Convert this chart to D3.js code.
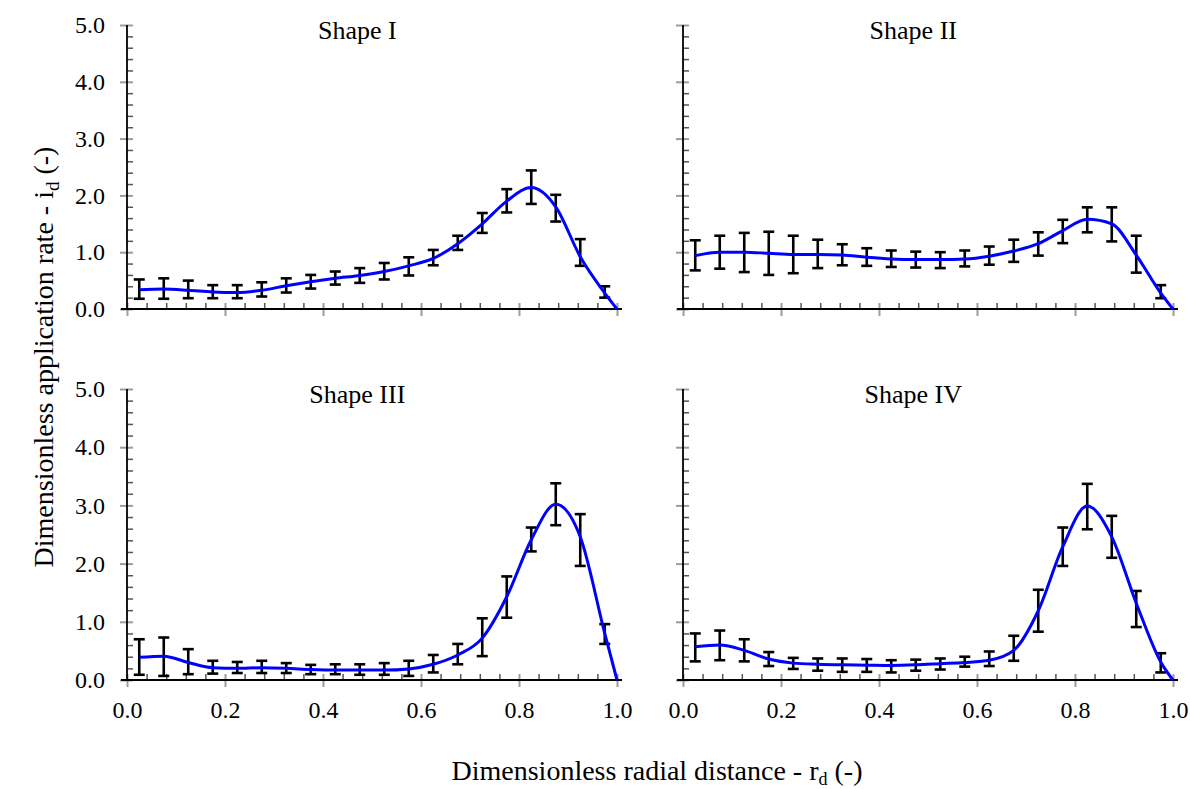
<!DOCTYPE html>
<html>
<head>
<meta charset="utf-8">
<style>
  body { margin: 0; background: #fff; }
  text { font-family: "Liberation Serif", "Times New Roman", serif; fill: #000; }
</style>
</head>
<body>
<div id="chart"></div>
<script src="https://d3js.org/d3.v7.min.js"></script>
<script>
    // measurement positions (dimensionless radius) and the end of the fitted curve
    var xCenters = [0.025, 0.075, 0.125, 0.175, 0.225, 0.275, 0.325, 0.375, 0.425, 0.475,
                    0.525, 0.575, 0.625, 0.675, 0.725, 0.775, 0.825, 0.875, 0.925, 0.975];
    var fitX = [0.025, 0.075, 0.125, 0.175, 0.225, 0.275, 0.325, 0.375, 0.425, 0.475,
                0.525, 0.575, 0.625, 0.675, 0.725, 0.775, 0.825, 0.875, 0.925, 0.975, 1.0];

    var shapeNames = ["Shape I", "Shape II", "Shape III", "Shape IV"];

    // error bar tops / bottoms and fitted curve, one set per shape
    var shape1Hi  = [0.52,0.54,0.50,0.42,0.42,0.47,0.54,0.60,0.66,0.72,0.81,0.91,1.04,1.29,1.69,2.11,2.44,2.01,1.23,0.40];
    var shape1Lo  = [0.18,0.18,0.19,0.19,0.19,0.22,0.29,0.36,0.43,0.46,0.52,0.59,0.77,1.04,1.34,1.70,1.85,1.54,0.76,0.20];
    var shape1Fit = [0.34,0.35,0.33,0.30,0.29,0.33,0.41,0.48,0.54,0.59,0.66,0.76,0.89,1.15,1.50,1.90,2.14,1.80,0.92,0.28,0];

    var shape2Hi  = [1.21,1.29,1.34,1.36,1.29,1.22,1.14,1.07,1.03,1.01,1.00,1.03,1.10,1.22,1.35,1.57,1.79,1.79,1.29,0.42];
    var shape2Lo  = [0.68,0.71,0.65,0.60,0.63,0.72,0.77,0.76,0.74,0.73,0.72,0.75,0.78,0.83,0.94,1.16,1.35,1.19,0.64,0.19];
    var shape2Fit = [0.94,1.00,1.00,0.98,0.96,0.96,0.95,0.91,0.88,0.87,0.87,0.88,0.93,1.02,1.15,1.38,1.58,1.50,0.95,0.28,0];

    var shape3Hi  = [0.70,0.73,0.53,0.33,0.31,0.33,0.29,0.26,0.27,0.27,0.29,0.33,0.43,0.62,1.06,1.78,2.62,3.38,2.85,0.96];
    var shape3Lo  = [0.09,0.07,0.10,0.11,0.12,0.12,0.12,0.10,0.10,0.09,0.09,0.07,0.13,0.27,0.41,1.07,2.21,2.66,1.96,0.62];
    var shape3Fit = [0.39,0.41,0.30,0.21,0.20,0.21,0.20,0.18,0.17,0.17,0.17,0.19,0.27,0.43,0.72,1.43,2.41,3.02,2.46,0.80,0];

    var shape4Hi  = [0.80,0.85,0.70,0.48,0.38,0.37,0.37,0.36,0.34,0.35,0.37,0.40,0.49,0.76,1.55,2.62,3.37,2.82,1.53,0.46];
    var shape4Lo  = [0.32,0.34,0.32,0.24,0.19,0.16,0.14,0.14,0.13,0.16,0.18,0.23,0.24,0.33,0.83,1.96,2.59,2.10,0.91,0.13];
    var shape4Fit = [0.57,0.60,0.51,0.36,0.29,0.27,0.26,0.255,0.25,0.26,0.28,0.30,0.34,0.51,1.19,2.29,2.99,2.46,1.32,0.31,0];

    var xMajor = [0, 0.2, 0.4, 0.6, 0.8, 1.0];
    var xMinor = [0.04,0.08,0.12,0.16, 0.24,0.28,0.32,0.36, 0.44,0.48,0.52,0.56,
                  0.64,0.68,0.72,0.76, 0.84,0.88,0.92,0.96];
    var yMajor = [0, 1, 2, 3, 4, 5];
    var yMinor = [0.2,0.4,0.6,0.8, 1.2,1.4,1.6,1.8, 2.2,2.4,2.6,2.8,
                  3.2,3.4,3.6,3.8, 4.2,4.4,4.6,4.8];

    var width = 1190, height = 789;
    var svg = d3.select("#chart").append("svg")
        .attr("width", width)
        .attr("height", height);

    // panel boxes (left, top, width, height)
    var panels = [
      { name: shapeNames[0], hi: shape1Hi, lo: shape1Lo, fit: shape1Fit, left: 127, top: 25,  w: 490, h: 284, xLab: false, yLab: true },
      { name: shapeNames[1], hi: shape2Hi, lo: shape2Lo, fit: shape2Fit, left: 683, top: 25,  w: 490, h: 284, xLab: false, yLab: false },
      { name: shapeNames[2], hi: shape3Hi, lo: shape3Lo, fit: shape3Fit, left: 127, top: 389, w: 490, h: 291, xLab: true,  yLab: true },
      { name: shapeNames[3], hi: shape4Hi, lo: shape4Lo, fit: shape4Fit, left: 683, top: 389, w: 490, h: 291, xLab: true,  yLab: false }
    ];

    var majorColor = "#9c9c9c", minorColor = "#555";

    panels.forEach(function(p){
      var g = svg.append("g").attr("transform", "translate(" + p.left + "," + p.top + ")");
      var x = d3.scaleLinear().domain([0, 1]).range([0, p.w]);
      var y = d3.scaleLinear().domain([0, 5]).range([p.h, 0]);

      // minor ticks (inside)
      g.append("g")
          .attr("transform", "translate(0," + p.h + ")")
          .call(d3.axisTop(x).tickValues(xMinor).tickSize(6).tickFormat(""))
          .call(function(a){ a.select(".domain").remove(); a.selectAll("line").attr("stroke", minorColor).attr("stroke-width", 1.5); });
      g.append("g")
          .call(d3.axisRight(y).tickValues(yMinor).tickSize(6).tickFormat(""))
          .call(function(a){ a.select(".domain").remove(); a.selectAll("line").attr("stroke", minorColor).attr("stroke-width", 1.5); });

      // major ticks cross the axis
      var xAx = g.append("g")
          .attr("transform", "translate(0," + p.h + ")")
          .attr("font-family", null)
          .call(d3.axisBottom(x).tickValues(xMajor).tickSize(7).tickPadding(14)
                .tickFormat(p.xLab ? d3.format(".1f") : ""));
      xAx.select(".domain").remove();
      xAx.selectAll("line").attr("y1", -6).attr("stroke", majorColor).attr("stroke-width", 2);
      xAx.selectAll("text").style("font-size", "24px").style("font-family", "'Liberation Serif', 'Times New Roman', serif").attr("fill", "#000");

      var yAx = g.append("g")
          .call(d3.axisLeft(y).tickValues(yMajor).tickSize(7).tickPadding(15)
                .tickFormat(p.yLab ? d3.format(".1f") : ""));
      yAx.select(".domain").remove();
      yAx.selectAll("line").attr("x1", 6).attr("stroke", majorColor).attr("stroke-width", 2);
      yAx.selectAll("text").style("font-size", "24px").style("font-family", "'Liberation Serif', 'Times New Roman', serif").attr("fill", "#000");

      // axis lines
      g.append("line").attr("x1", 0).attr("x2", 0).attr("y1", 0).attr("y2", p.h)
          .attr("stroke", "#000").attr("stroke-width", 1.8);
      g.append("line").attr("x1", -6).attr("x2", p.w + 5).attr("y1", p.h).attr("y2", p.h)
          .attr("stroke", "#000").attr("stroke-width", 1.8);

      // error bars
      var bars = g.append("g").selectAll("g")
          .data(xCenters.map(function(d, i){ return { x: d, hi: p.hi[i], lo: p.lo[i] }; }))
          .enter().append("g")
          .attr("stroke", "#000").attr("stroke-width", 2.6);
      bars.append("line")
          .attr("x1", function(d){ return x(d.x); }).attr("x2", function(d){ return x(d.x); })
          .attr("y1", function(d){ return y(d.hi); }).attr("y2", function(d){ return y(d.lo); });
      bars.append("line")
          .attr("x1", function(d){ return x(d.x) - 5.5; }).attr("x2", function(d){ return x(d.x) + 5.5; })
          .attr("y1", function(d){ return y(d.hi); }).attr("y2", function(d){ return y(d.hi); });
      bars.append("line")
          .attr("x1", function(d){ return x(d.x) - 5.5; }).attr("x2", function(d){ return x(d.x) + 5.5; })
          .attr("y1", function(d){ return y(d.lo); }).attr("y2", function(d){ return y(d.lo); });

      // fitted curve
      var line = d3.line()
          .x(function(d){ return x(d[0]); })
          .y(function(d){ return y(d[1]); })
          .curve(d3.curveMonotoneX);
      g.append("path")
          .datum(fitX.map(function(d, i){ return [d, p.fit[i]]; }))
          .attr("fill", "none")
          .attr("stroke", "#0000ff")
          .attr("stroke-width", 3)
          .attr("d", line);

      // panel title
      g.append("text")
          .attr("x", x(0.47))
          .attr("y", 14)
          .attr("text-anchor", "middle")
          .style("font-size", "26px")
          .text(p.name);
    });

    // axis titles
    var yTitle = svg.append("text")
        .attr("transform", "translate(53,357) rotate(-90)")
        .attr("text-anchor", "middle")
        .style("font-size", "28px");
    yTitle.append("tspan").text("Dimensionless application rate - i");
    yTitle.append("tspan").attr("dy", 6).style("font-size", "19px").text("d");
    yTitle.append("tspan").attr("dy", -6).text(" (-)");

    var xTitle = svg.append("text")
        .attr("x", 657)
        .attr("y", 780)
        .attr("text-anchor", "middle")
        .style("font-size", "28px");
    xTitle.append("tspan").text("Dimensionless radial distance - r");
    xTitle.append("tspan").attr("dy", 5).style("font-size", "18px").text("d");
    xTitle.append("tspan").attr("dy", -5).text(" (-)");
</script>
</body>
</html>
